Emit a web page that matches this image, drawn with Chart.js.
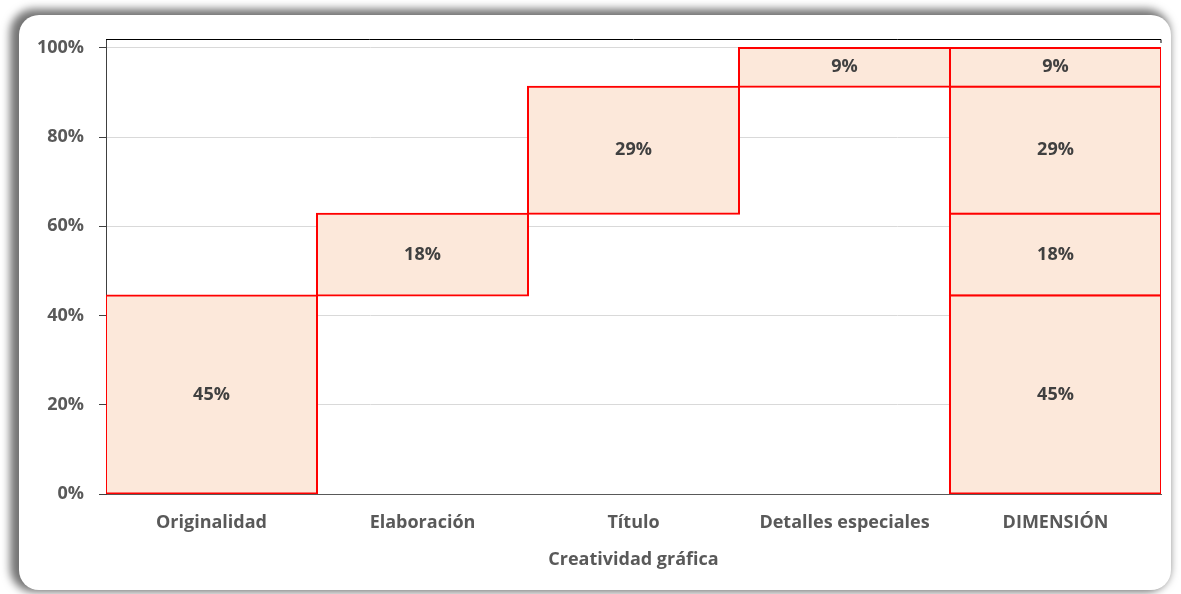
<!DOCTYPE html>
<html>
<head>
<meta charset="utf-8">
<script src="https://cdn.jsdelivr.net/npm/chart.js@4"></script>
<style>
    body { margin: 0; background: #fff; }
    #wrap { position: relative; width: 1181px; height: 594px; overflow: hidden; }
    #card {
        position: absolute; left: 19px; top: 15px; width: 1152px; height: 575px;
        border-radius: 20px; background: #fff;
        box-shadow: -5px -2px 9px 4px rgba(0, 0, 0, 0.55);
    }
    #chart { position: absolute; left: 0; top: 0; }
</style>
</head>
<body>
<div id="wrap">
    <div id="card"></div>
    <canvas id="chart" width="1181" height="594"></canvas>
</div>
<script>
// Chart data
const categories = ['Originalidad', 'Elaboración', 'Título', 'Detalles especiales', 'DIMENSIÓN'];
const components = ['Originalidad', 'Elaboración', 'Título', 'Detalles especiales'];
const values = [44.5, 18.3, 28.5, 8.7];
const yTicks = [0, 20, 40, 60, 80, 100];
const axisTitle = 'Creatividad gráfica';

const fontFamily = '"Open Sans", "Noto Sans", sans-serif';

// Build waterfall datasets: each component sits on its own column and in the total column
let running = 0;
const datasets = components.map((name, i) => {
    const start = running;
    const end = running + values[i];
    running = end;
    return {
        label: name,
        data: categories.map((c, j) => (j === i || j === categories.length - 1) ? [start, end] : null),
        backgroundColor: '#FCE8DA',
        borderColor: '#FF0000',
        borderWidth: 2,
        borderSkipped: false,
        inflateAmount: 1,
        categoryPercentage: 1,
        barPercentage: 1
    };
});

// Value labels in the middle of each bar
const barLabels = {
    id: 'barLabels',
    afterDatasetsDraw(chart) {
        const ctx = chart.ctx;
        ctx.save();
        ctx.font = 'bold 18px ' + fontFamily;
        ctx.fillStyle = '#404040';
        ctx.textAlign = 'center';
        ctx.textBaseline = 'middle';
        chart.data.datasets.forEach((ds, i) => {
            chart.getDatasetMeta(i).data.forEach((bar, j) => {
                if (!ds.data[j]) return;
                const v = ds.data[j][1] - ds.data[j][0];
                ctx.fillText(Math.round(v) + '%', bar.x, (bar.y + bar.base) / 2);
            });
        });
        ctx.restore();
    }
};

// Plot area frame (top edge)
const plotFrame = {
    id: 'plotFrame',
    beforeDatasetsDraw(chart) {
        const { ctx, chartArea } = chart;
        ctx.save();
        ctx.strokeStyle = '#000';
        ctx.lineWidth = 1;
        ctx.beginPath();
        ctx.moveTo(chartArea.left, chartArea.top + 0.5);
        ctx.lineTo(chartArea.right, chartArea.top + 0.5);
        ctx.lineTo(chartArea.right, chartArea.top + 4);
        ctx.stroke();
        ctx.restore();
    }
};

new Chart(document.getElementById('chart'), {
    type: 'bar',
    data: { labels: categories, datasets: datasets },
    plugins: [barLabels, plotFrame],
    options: {
        responsive: false,
        animation: false,
        layout: { padding: { top: 39, right: 20, bottom: 18, left: 0 } },
        plugins: {
            legend: { display: false },
            tooltip: { enabled: false }
        },
        scales: {
            x: {
                stacked: true,
                grid: { display: false, drawTicks: false },
                border: { color: '#595959', width: 1 },
                ticks: {
                    color: '#595959',
                    padding: 18,
                    font: { family: fontFamily, size: 18, weight: 'bold' }
                },
                title: {
                    display: true,
                    text: axisTitle,
                    color: '#595959',
                    padding: { top: 4, bottom: 5 },
                    font: { family: fontFamily, size: 18, weight: 'bold' }
                },
                afterFit(scale) { scale.height = 82; }
            },
            y: {
                min: 0,
                max: 102,
                afterBuildTicks(scale) { scale.ticks = yTicks.map(v => ({ value: v })); },
                ticks: {
                    color: '#595959',
                    padding: 15,
                    callback: v => v + '%',
                    font: { family: fontFamily, size: 18, weight: 'bold' }
                },
                grid: {
                    color: ctx => ctx.tick && ctx.tick.value === 0 ? 'rgba(0,0,0,0)' : '#D9D9D9',
                    tickColor: '#404040',
                    tickLength: 7
                },
                border: { color: '#404040', width: 1 },
                afterFit(scale) { scale.width = 106; }
            }
        }
    }
});
</script>
</body>
</html>
